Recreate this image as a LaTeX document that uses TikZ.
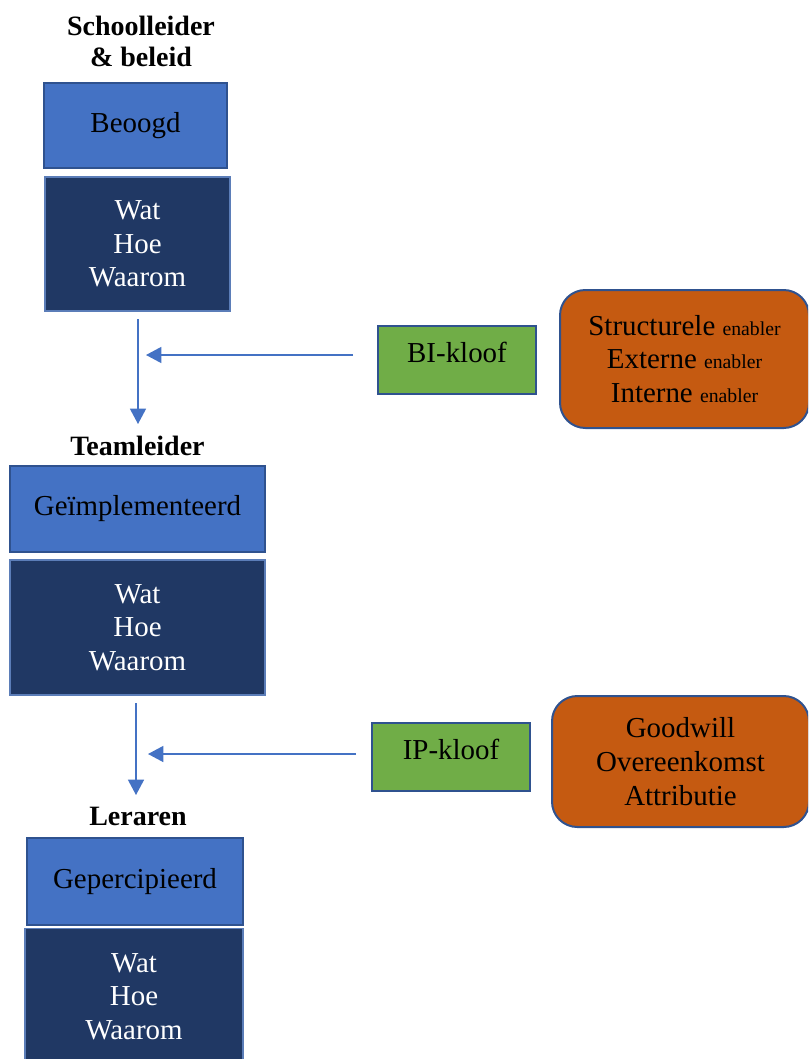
\documentclass[tikz,border=0pt]{standalone}
\usepackage{fontspec}
\setmainfont{Liberation Serif}
\usetikzlibrary{arrows.meta}

\definecolor{boxblue}{HTML}{4472C4}
\definecolor{edgeblue}{HTML}{2F528F}
\definecolor{navy}{HTML}{203864}
\definecolor{navyedge}{HTML}{5B7DB8}
\definecolor{gapgreen}{HTML}{70AD47}
\definecolor{enableorange}{HTML}{C55A11}

\tikzset{
  base/.style={inner sep=0pt, outer sep=0pt, align=center,
    font=\fontsize{21.7}{25.3}\selectfont},
  levelbox/.style={base, fill=boxblue, draw=edgeblue, line width=1.5pt},
  contentbox/.style={base, fill=navy, draw=navyedge, line width=1pt, text=white},
  gapbox/.style={base, fill=gapgreen, draw=edgeblue, line width=1.5pt},
  enablerbox/.style={base, fill=enableorange, draw=edgeblue, line width=1.5pt,
    rounded corners=19pt},
  gaptext/.style={base},
  roletitle/.style={inner sep=0pt, align=center,
    font=\fontsize{21}{23.3}\selectfont\bfseries},
  flow/.style={draw=boxblue, line width=1.1pt,
    -{Triangle[length=11.5pt,width=12pt]}},
}
\newcommand{\enab}{{\fontsize{14.8}{16}\selectfont enabler}}

\begin{document}
\begin{tikzpicture}[x=0.75pt, y=-0.75pt]
  \useasboundingbox (0,0) rectangle (808,1059);
  \clip (0,0) rectangle (808,1059);

  % level 1: school leader and policy
  \node[roletitle] (t1) at (141,41) {Schoolleider\\\& beleid};
  \node[levelbox, minimum width=137.25pt, minimum height=63.75pt] (beoogd) at (135.5,125.5) {Beoogd};
  \node[contentbox, minimum width=138.75pt, minimum height=100.5pt] (c1) at (137.5,244) {Wat\\Hoe\\Waarom};

  % level 2: team leader
  \node[roletitle] (t2) at (137.5,446) {Teamleider};
  \node[levelbox, minimum width=191.25pt, minimum height=64.5pt] (geimp) at (137.5,509) {Geïmplementeerd};
  \node[contentbox, minimum width=191.25pt, minimum height=101.25pt] (c2) at (137.5,627.5) {Wat\\Hoe\\Waarom};

  % level 3: teachers
  \node[roletitle] (t3) at (138,816) {Leraren};
  \node[levelbox, minimum width=162pt, minimum height=65.25pt] (gep) at (135,881.5) {Gepercipieerd};
  \node[contentbox, minimum width=163.5pt, minimum height=102pt] (c3) at (134,996.5) {Wat\\Hoe\\Waarom};

  % gaps between the levels
  \node[gapbox, minimum width=118.5pt, minimum height=51pt] (bi) at (457,360) {};
  \node[gaptext] (bitext) at (457,352) {BI-kloof};
  \node[gapbox, minimum width=118.5pt, minimum height=51pt] (ip) at (451,757) {};
  \node[gaptext] (iptext) at (451,749) {IP-kloof};

  % enablers and conditions
  \node[enablerbox, minimum width=186.75pt, minimum height=103.5pt] (en1) at (684.5,359)
    {Structurele \enab\\Externe \enab\\Interne \enab};
  \node[enablerbox, minimum width=192.75pt, minimum height=98.25pt] (en2) at (680.5,761.5)
    {Goodwill\\Overeenkomst\\Attributie};

  % flow from level to level, with the gap acting on it
  \coordinate (d1s) at (138,319);
  \coordinate (d1e) at (138,424);
  \coordinate (g1s) at (353,355);
  \coordinate (g1e) at (146,355);
  \draw[flow] (d1s) -- (d1e);
  \draw[flow] (g1s) -- (g1e);

  \coordinate (d2s) at (136,703);
  \coordinate (d2e) at (136,795);
  \coordinate (g2s) at (356,754);
  \coordinate (g2e) at (148,754);
  \draw[flow] (d2s) -- (d2e);
  \draw[flow] (g2s) -- (g2e);
\end{tikzpicture}
\end{document}
